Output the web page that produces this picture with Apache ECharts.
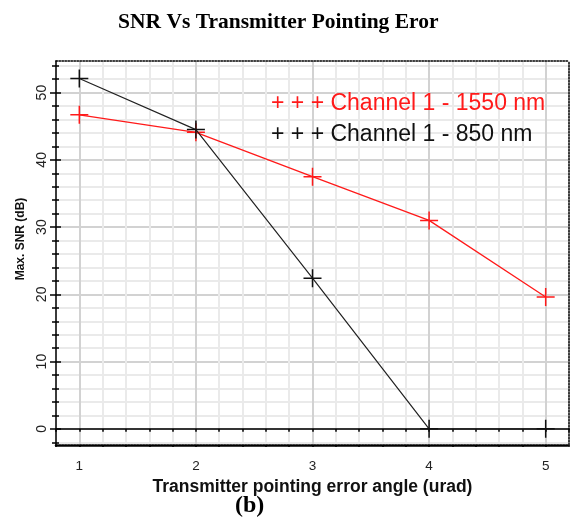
<!DOCTYPE html>
<html>
<head>
<meta charset="utf-8">
<script src="https://cdn.jsdelivr.net/npm/echarts@6/dist/echarts.min.js"></script>
<style>
  html, body { margin: 0; padding: 0; background: #fff; }
  #chart { width: 570px; height: 528px; }
</style>
</head>
<body>
<div id="chart"></div>
<script>
// data
const angles = [1, 2, 3, 4, 5];
const snr1550 = [46.7, 44.1, 37.5, 31.0, 19.6];
const snr850 = [52.1, 44.5, 22.4, 0, 0];
const xLabels = [1, 2, 3, 4, 5];
const yTicks = [-2, 0, 2, 4, 6, 8, 10, 12, 14, 16, 18, 20, 22, 24, 26, 28, 30,
  32, 34, 36, 38, 40, 42, 44, 46, 48, 50, 52, 54];
const yLabels = [0, 10, 20, 30, 40, 50];

const chart = echarts.init(document.getElementById('chart'), null, { renderer: 'canvas' });

const sans = 'Liberation Sans';
const serif = 'Liberation Serif';
const gridColors = ['#eaeaea', '#d2d2d2', '#eaeaea', '#eaeaea', '#eaeaea'];
const plus = 'path://M0 8.25h18v1.5h-18z M8.25 0h1.5v18h-1.5z';
const X_MIN = 0.8, X_MAX = 5.2, Y_MIN = -2.4, Y_MAX = 54.7;

function pairs(ys) {
  return angles.map((x, i) => [x, ys[i]]);
}

const option = {
  animation: false,
  backgroundColor: '#fff',
  title: [
    {
      text: 'SNR Vs Transmitter Pointing Eror',
      left: 118, top: 11, padding: 0,
      textStyle: { fontFamily: serif, fontWeight: 'bold', fontSize: 21.5, color: '#000' }
    },
    {
      text: '(b)',
      left: 235, top: 494, padding: 0,
      textStyle: { fontFamily: serif, fontWeight: 'bold', fontSize: 24, color: '#000' }
    }
  ],
  legend: {
    orient: 'vertical',
    left: 266, top: 91, padding: 0,
    itemWidth: 0, itemHeight: 14, itemGap: 5,
    icon: 'none',
    selectedMode: false,
    formatter: name => '+ + + ' + name,
    textStyle: { fontFamily: sans, fontSize: 23, lineHeight: 26 },
    data: [
      { name: 'Channel 1 - 1550 nm', textStyle: { color: '#ff1a1a' } },
      { name: 'Channel 1 - 850 nm', textStyle: { color: '#111' } }
    ]
  },
  grid: { left: 56, right: 1, top: 61, bottom: 83, outerBoundsMode: 'none' },
  xAxis: [
    { // data axis, drawn on y = 0
      type: 'value', min: X_MIN, max: X_MAX, interval: 0.2,
      axisLine: { onZero: true, onZeroAxisIndex: 0, lineStyle: { color: '#000', width: 1.5 } },
      axisTick: { show: true, length: 3, lineStyle: { color: '#000', width: 1.5 } },
      axisLabel: { show: false },
      splitLine: { show: true, lineStyle: { color: gridColors, width: 2 } }
    },
    { // inner half of the zero-line ticks
      type: 'value', min: X_MIN, max: X_MAX, interval: 0.2,
      axisLine: { show: false, onZero: true, onZeroAxisIndex: 0 },
      axisTick: { show: true, inside: true, length: 3, lineStyle: { color: '#000', width: 1.5 } },
      axisLabel: { show: false },
      splitLine: { show: false }
    },
    { // bottom frame with labels
      type: 'value', position: 'bottom', min: X_MIN, max: X_MAX, interval: 0.2,
      axisLine: { onZero: false, lineStyle: { color: '#000', width: 2.5, type: [1.5, 1.5] } },
      axisTick: { show: true, length: 2, lineStyle: { color: '#000', width: 1.5 } },
      axisLabel: {
        customValues: xLabels, margin: 14,
        fontFamily: sans, fontSize: 13.5, color: '#222'
      },
      splitLine: { show: false },
      name: 'Transmitter pointing error angle (urad)',
      nameLocation: 'middle', nameGap: 30,
      nameTextStyle: { fontFamily: sans, fontWeight: 'bold', fontSize: 17.5, color: '#111' }
    },
    { // top frame
      type: 'value', position: 'top', min: X_MIN, max: X_MAX,
      axisLine: { onZero: false, lineStyle: { color: '#000', width: 1.5, type: [1.5, 1.5] } },
      axisTick: { show: false }, axisLabel: { show: false }, splitLine: { show: false }
    }
  ],
  yAxis: [
    { // data axis
      type: 'value', position: 'left', min: Y_MIN, max: Y_MAX,
      axisLine: { show: true, onZero: false, lineStyle: { color: '#000', width: 1.5 } },
      axisTick: { show: true, customValues: yTicks, length: 4, lineStyle: { color: '#000', width: 1.5 } },
      axisLabel: {
        customValues: yLabels, rotate: 90, margin: 7,
        fontFamily: sans, fontSize: 14, color: '#222'
      },
      splitLine: { show: true, lineStyle: { color: gridColors, width: 2 } },
      name: 'Max. SNR (dB)',
      nameLocation: 'middle', nameGap: 25,
      nameTextStyle: {
        fontFamily: sans, fontWeight: 'bold', fontSize: 12, color: '#111',
        padding: [0, 0, 0, 28]
      }
    },
    { // inner half of minor ticks
      type: 'value', position: 'left', min: Y_MIN, max: Y_MAX,
      axisLine: { show: false, onZero: false },
      axisTick: { show: true, inside: true, customValues: yTicks, length: 3, lineStyle: { color: '#000', width: 1.5 } },
      axisLabel: { show: false }, splitLine: { show: false }
    },
    { // major ticks, outer
      type: 'value', position: 'left', min: Y_MIN, max: Y_MAX,
      axisLine: { show: false, onZero: false },
      axisTick: { show: true, customValues: yLabels, length: 6, lineStyle: { color: '#000', width: 1.5 } },
      axisLabel: { show: false }, splitLine: { show: false }
    },
    { // major ticks, inner
      type: 'value', position: 'left', min: Y_MIN, max: Y_MAX,
      axisLine: { show: false, onZero: false },
      axisTick: { show: true, inside: true, customValues: yLabels, length: 5, lineStyle: { color: '#000', width: 1.5 } },
      axisLabel: { show: false }, splitLine: { show: false }
    },
    { // right frame
      type: 'value', position: 'right', min: Y_MIN, max: Y_MAX,
      axisLine: { show: true, onZero: false, lineStyle: { color: '#000', width: 1.5, type: [1.5, 1.5] } },
      axisTick: { show: false }, axisLabel: { show: false }, splitLine: { show: false }
    }
  ],
  series: [
    {
      name: 'Channel 1 - 1550 nm',
      type: 'line',
      xAxisIndex: 0, yAxisIndex: 0,
      data: pairs(snr1550),
      symbol: plus, symbolSize: 18,
      color: '#ff1a1a',
      lineStyle: { color: '#ff1a1a', width: 1.3 },
      itemStyle: { color: '#ff1a1a', borderWidth: 0 },
      emphasis: { disabled: true },
      z: 3
    },
    {
      name: 'Channel 1 - 850 nm',
      type: 'line',
      xAxisIndex: 0, yAxisIndex: 0,
      data: pairs(snr850),
      symbol: plus, symbolSize: 18,
      color: '#111',
      lineStyle: { color: '#222', width: 1.2 },
      itemStyle: { color: '#111', borderWidth: 0 },
      emphasis: { disabled: true },
      z: 4
    }
  ]
};

chart.setOption(option);
</script>
</body>
</html>
